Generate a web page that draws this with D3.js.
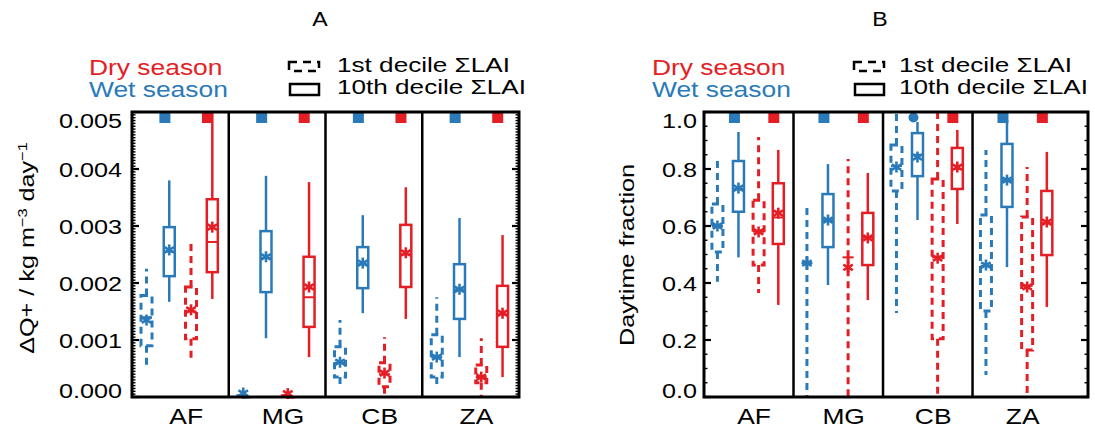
<!DOCTYPE html>
<html>
<head>
<meta charset="utf-8">
<script src="https://cdn.jsdelivr.net/npm/d3@7"></script>
<style>
  body { margin: 0; background: #fff; }
  text { font-family: "Liberation Sans", Arial, sans-serif; }
</style>
</head>
<body>
<svg id="chart" width="1095" height="434"></svg>
<script>
// DATA
const regions = ["AF", "MG", "CB", "ZA"];

// each box: [min, q1, median, q3, max, mean]
// panel A: dQ+ (kg m-3 day-1)
const aWet1st = [[0.00052, 0.00090, 0.00140, 0.00178, 0.00225, 0.00135],
                 [0.0, 0.0, 0.0, 0.00002, 0.00005, 0.00007],
                 [0.00016, 0.00035, 0.00060, 0.00088, 0.00135, 0.00061],
                 [0.00019, 0.00035, 0.00070, 0.00109, 0.00175, 0.00070]];
const aWet10th = [[0.00167, 0.00212, 0.00255, 0.00298, 0.00380, 0.00258],
                  [0.00103, 0.00184, 0.00244, 0.00291, 0.00388, 0.00246],
                  [0.00147, 0.00191, 0.00233, 0.00263, 0.00319, 0.00235],
                  [0.00070, 0.00137, 0.00188, 0.00233, 0.00314, 0.00189]];
const aDry1st = [[0.00060, 0.00102, 0.00150, 0.00193, 0.00277, 0.00153],
                 [0.0, 0.0, 0.0, 0.00002, 0.00005, 0.00006],
                 [0.0, 0.00018, 0.00040, 0.00060, 0.00105, 0.00042],
                 [0.0, 0.00025, 0.00035, 0.00056, 0.00103, 0.00035]];
const aDry10th = [[0.00172, 0.00219, 0.00272, 0.00347, 0.00500, 0.00298],
                  [0.00070, 0.00123, 0.00175, 0.00246, 0.00377, 0.00193],
                  [0.00137, 0.00193, 0.00250, 0.00302, 0.00368, 0.00253],
                  [0.00035, 0.00088, 0.00145, 0.00195, 0.00284, 0.00147]];

// panel B: daytime fraction
const bWet1st = [[0.404, 0.509, 0.600, 0.677, 0.835, 0.600],
                 [0.0, 0.470, 0.470, 0.470, 0.667, 0.470],
                 [0.295, 0.723, 0.810, 0.884, 1.000, 0.807],
                 [0.077, 0.302, 0.460, 0.639, 0.867, 0.463]];
const bWet10th = [[0.490, 0.650, 0.730, 0.828, 0.930, 0.733],
                  [0.393, 0.526, 0.620, 0.712, 0.817, 0.621],
                  [0.621, 0.775, 0.850, 0.926, 0.965, 0.842],
                  [0.456, 0.667, 0.760, 0.888, 0.972, 0.761]];
const bDry1st = [[0.365, 0.463, 0.580, 0.690, 0.912, 0.579],
                 [0.0, 0.490, 0.490, 0.490, 0.835, 0.455],
                 [0.0, 0.204, 0.490, 0.765, 1.000, 0.487],
                 [0.0, 0.165, 0.390, 0.632, 0.807, 0.386]];
const bDry10th = [[0.323, 0.537, 0.630, 0.750, 0.867, 0.645],
                  [0.340, 0.463, 0.560, 0.646, 0.786, 0.558],
                  [0.607, 0.730, 0.800, 0.874, 0.937, 0.807],
                  [0.316, 0.498, 0.610, 0.723, 0.860, 0.614]];

// top markers (wet, dry) per region
const aTopMarks = [["square", "square"], ["square", "square"], ["square", "square"], ["square", "square"]];
const bTopMarks = [["square", "square"], ["square", "square"], ["circle", "square"], ["square", "square"]];

const aTicks = [0, 0.001, 0.002, 0.003, 0.004, 0.005];
const bTicks = [0, 0.2, 0.4, 0.6, 0.8, 1.0];

const blue = "#2a7ab9";
const red = "#e41e25";
const sx = 1.2; // the font in the figure is wide

const svg = d3.select("#chart");

function txt(g, x, y, s, size, anchor, fill, scale) {
    return g.append("text")
        .attr("transform", `translate(${x},${y}) scale(${scale || sx},1)`)
        .attr("text-anchor", anchor || "start")
        .style("font-size", size + "px")
        .style("fill", fill || "black")
        .text(s);
}

function star(g, cx, cy, color) {
    const r = 5.5;
    [90, 30, -30].forEach(a => {
        const dx = r * Math.cos(a * Math.PI / 180), dy = r * Math.sin(a * Math.PI / 180);
        g.append("line")
            .attr("x1", cx - dx).attr("y1", cy - dy)
            .attr("x2", cx + dx).attr("y2", cy + dy)
            .attr("stroke", color).attr("stroke-width", 2.6);
    });
}

function drawBox(g, cx, s, color, dashed, y) {
    const [mn, q1, md, q3, mx, mean] = s;
    const hw = 5.5;
    const sw = dashed ? 3 : 2.5;
    const dash = dashed ? "7,5" : null;
    // whiskers
    g.append("line").attr("x1", cx).attr("x2", cx).attr("y1", y(q3)).attr("y2", y(mx))
        .attr("stroke", color).attr("stroke-width", sw).attr("stroke-dasharray", dash);
    g.append("line").attr("x1", cx).attr("x2", cx).attr("y1", y(q1)).attr("y2", y(mn))
        .attr("stroke", color).attr("stroke-width", sw).attr("stroke-dasharray", dash);
    // box
    g.append("rect")
        .attr("x", cx - hw).attr("y", y(q3))
        .attr("width", 2 * hw).attr("height", Math.max(0, y(q1) - y(q3)))
        .attr("fill", "none").attr("stroke", color).attr("stroke-width", sw)
        .attr("stroke-dasharray", dash);
    // median
    g.append("line").attr("x1", cx - hw).attr("x2", cx + hw).attr("y1", y(md)).attr("y2", y(md))
        .attr("stroke", color).attr("stroke-width", 2);
    star(g, cx, y(mean), color);
}

function drawPanel(cfg) {
    const g = svg.append("g");
    const xs = d3.scaleLinear().domain([0, cfg.xmax]).range([cfg.left, cfg.right]);
    const ys = d3.scaleLinear().domain(cfg.ydomain).range([cfg.bottom, cfg.top]);

    // boxes
    const series = [
        { data: cfg.wet1, color: blue, dashed: true, off: 0.15 },
        { data: cfg.wet10, color: blue, dashed: false, off: 0.385 },
        { data: cfg.dry1, color: red, dashed: true, off: 0.61 },
        { data: cfg.dry10, color: red, dashed: false, off: 0.83 }
    ];
    regions.forEach((r, i) => {
        series.forEach(s => drawBox(g, xs(i + s.off), s.data[i], s.color, s.dashed, ys));
        // top markers
        [[cfg.marks[i][0], blue, 0.34], [cfg.marks[i][1], red, 0.78]].forEach(([m, c, o]) => {
            const mx = xs(i + o);
            if (m === "circle") {
                g.append("circle").attr("cx", mx).attr("cy", cfg.top + 5.5).attr("r", 5).attr("fill", c);
            } else {
                g.append("rect").attr("x", mx - 5.5).attr("y", cfg.top).attr("width", 11).attr("height", 11).attr("fill", c);
            }
        });
        txt(g, xs(i + 0.56), 424, r, 22, "middle");
    });

    // ticks inside frame, both sides
    const minor = d3.range(cfg.ydomain[0], cfg.ydomain[1] + cfg.minorStep / 2, cfg.minorStep);
    minor.forEach(v => {
        g.append("line").attr("x1", cfg.left).attr("x2", cfg.left + 3.5).attr("y1", ys(v)).attr("y2", ys(v))
            .attr("stroke", "black").attr("stroke-width", 1.4);
        g.append("line").attr("x1", cfg.right).attr("x2", cfg.right - 3.5).attr("y1", ys(v)).attr("y2", ys(v))
            .attr("stroke", "black").attr("stroke-width", 1.4);
    });
    cfg.ticks.forEach(v => {
        g.append("line").attr("x1", cfg.left).attr("x2", cfg.left + 7).attr("y1", ys(v)).attr("y2", ys(v))
            .attr("stroke", "black").attr("stroke-width", 2.2);
        g.append("line").attr("x1", cfg.right).attr("x2", cfg.right - 7).attr("y1", ys(v)).attr("y2", ys(v))
            .attr("stroke", "black").attr("stroke-width", 2.2);
        const ly = Math.min(Math.max(ys(v), cfg.top + 8), cfg.bottom - 7);
        txt(g, cfg.labelX, ly + 7.5, cfg.fmt(v), 21, "end");
    });

    // region dividers + frame
    [1, 2, 3].forEach(k => {
        g.append("line").attr("x1", xs(k)).attr("x2", xs(k)).attr("y1", cfg.top).attr("y2", cfg.bottom)
            .attr("stroke", "black").attr("stroke-width", 2.5);
    });
    g.append("rect").attr("x", cfg.left).attr("y", cfg.top)
        .attr("width", cfg.right - cfg.left).attr("height", cfg.bottom - cfg.top)
        .attr("fill", "none").attr("stroke", "black").attr("stroke-width", 3);

    // titles
    txt(g, cfg.titleX, 26, cfg.title, 21, "middle", "black", 1.1);
    const yt = g.append("text")
        .attr("transform", `translate(${cfg.yTitleX},${cfg.yTitleY}) rotate(-90) scale(${sx},1)`)
        .attr("text-anchor", "middle")
        .style("font-size", cfg.yTitleSize + "px");
    cfg.yTitle.forEach(p => {
        const t = yt.append("tspan").text(p.t);
        if (p.sup) t.style("font-size", (cfg.yTitleSize * 0.65) + "px").attr("baseline-shift", "super");
    });

    // legend
    const lg = cfg.legend;
    txt(g, lg.x1, 75, "Dry season", 22, "start", red);
    txt(g, lg.x1, 97, "Wet season", 22, "start", blue);
    g.append("rect").attr("x", lg.ix).attr("y", 62).attr("width", 30).attr("height", 9)
        .attr("fill", "none").attr("stroke", "black").attr("stroke-width", 2.5).attr("stroke-dasharray", "8,6");
    g.append("rect").attr("x", lg.ix + 1).attr("y", 84).attr("width", 29).attr("height", 11)
        .attr("fill", "none").attr("stroke", "black").attr("stroke-width", 2.5);
    txt(g, lg.x2, 72, "1st decile \u03A3LAI", 19.5, "start", "black", 1.34);
    txt(g, lg.x2, 94, "10th decile \u03A3LAI", 19.5, "start", "black", 1.34);
}

drawPanel({
    left: 132, right: 519, top: 112, bottom: 397, xmax: 4,
    ydomain: [0, 0.005], ticks: aTicks, minorStep: 0.00005, fmt: d3.format(".3f"),
    labelX: 122,
    wet1: aWet1st, wet10: aWet10th, dry1: aDry1st, dry10: aDry10th, marks: aTopMarks,
    title: "A", titleX: 320,
    yTitle: [{ t: "\u0394Q+ / kg m" }, { t: "\u22123", sup: true }, { t: " day" }, { t: "\u22121", sup: true }],
    yTitleX: 34, yTitleY: 248, yTitleSize: 21,
    legend: { x1: 89, ix: 289, x2: 337 }
});

drawPanel({
    left: 704, right: 1088, top: 112, bottom: 397, xmax: 4.29,
    ydomain: [0, 1], ticks: bTicks, minorStep: 0.05, fmt: d3.format(".1f"),
    labelX: 697,
    wet1: bWet1st, wet10: bWet10th, dry1: bDry1st, dry10: bDry10th, marks: bTopMarks,
    title: "B", titleX: 880,
    yTitle: [{ t: "Daytime fraction" }],
    yTitleX: 634, yTitleY: 255, yTitleSize: 21,
    legend: { x1: 652, ix: 854, x2: 899 }
});
</script>
</body>
</html>
